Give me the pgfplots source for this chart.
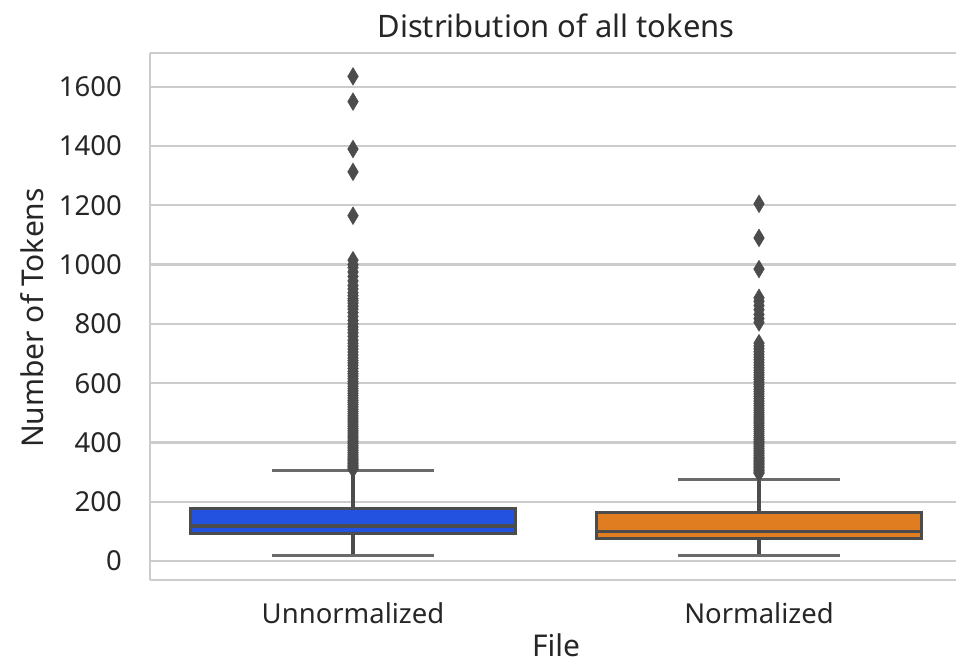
\documentclass[border=0pt]{standalone}
\usepackage{pgfplots}
\pgfplotsset{compat=1.18}
\usepackage{fontspec}
\setmainfont{Noto Sans}

\definecolor{boxblue}{HTML}{2252DF}
\definecolor{boxorange}{HTML}{DF7D20}
\definecolor{linegray}{HTML}{4C4C4C}
\definecolor{capgray}{HTML}{6A6A6A}
\definecolor{gridgray}{HTML}{CCCCCC}
\definecolor{textgray}{HTML}{262626}

% narrow diamond used for the outliers
\pgfdeclareplotmark{thindiamond}{%
  \pgfpathmoveto{\pgfqpoint{0pt}{\pgfplotmarksize}}%
  \pgfpathlineto{\pgfqpoint{0.6\pgfplotmarksize}{0pt}}%
  \pgfpathlineto{\pgfqpoint{0pt}{-\pgfplotmarksize}}%
  \pgfpathlineto{\pgfqpoint{-0.6\pgfplotmarksize}{0pt}}%
  \pgfpathclose
  \pgfusepathqfillstroke}

\begin{document}
\begin{tikzpicture}
\begin{axis}[
  at={(112.5pt,62.25pt)}, anchor=south west,
  scale only axis, width=609pt, height=395.25pt,
  xmin=-0.5, xmax=1.5, ymin=-64, ymax=1714,
  separate axis lines, axis x line*=box, axis y line*=left,
  xtick={0,1}, xticklabels={Unnormalized,Normalized},
  ytick={0,200,400,600,800,1000,1200,1400,1600},
  tick style={draw=none},
  ymajorgrids, major grid style={draw=gridgray, line width=1.7pt},
  axis line style={draw=gridgray, line width=2.2pt},
  tick label style={font=\fontsize{20.6}{24}\selectfont, text=textgray},
  xticklabel style={anchor=base, inner sep=0pt, yshift=-33pt},
  yticklabel style={anchor=east, inner sep=0pt, xshift=-21pt},
  /pgf/number format/assume math mode=true,
  /pgf/number format/1000 sep={},
  label style={font=\fontsize{22.5}{27}\selectfont, text=textgray},
  xlabel={File}, ylabel={Number of Tokens},
  xlabel style={at={(axis description cs:0.5,0)}, anchor=base, inner sep=0pt, yshift=-57.5pt},
  ylabel style={at={(axis description cs:-0.1315,0.497)}, anchor=base},
  title={Distribution of all tokens},
  title style={font=\fontsize{23.2}{28}\selectfont, text=textgray,
    at={(axis description cs:0.5,1)}, anchor=base, yshift=5.8pt},
  boxline/.style={draw=linegray, line width=2.5pt, mark=none},
  capline/.style={draw=capgray, line width=2.3pt, mark=none},
  outliers/.style={only marks, mark=thindiamond, mark size=6.6pt,
    mark options={fill=linegray, draw=linegray, line width=0.4pt}},
]

% ---- Unnormalized: whiskers, box, median, outliers
\addplot[boxline] coordinates {(0,18) (0,93.5)};
\addplot[boxline] coordinates {(0,178) (0,305)};
\addplot[capline] coordinates {(-0.2,18) (0.2,18)};
\addplot[capline] coordinates {(-0.2,305) (0.2,305)};
\addplot[boxline, fill=boxblue, line join=miter]
  coordinates {(-0.4,93.5) (0.4,93.5) (0.4,178) (-0.4,178)} -- cycle;
\addplot[boxline] coordinates {(-0.4,118) (0.4,118)};
\addplot[outliers] coordinates {
(0,1635) (0,1550) (0,1390) (0,1313) (0,1165)
(0,1015) (0,1000) (0,990) (0,975) (0,960) (0,945) (0,930) (0,918) (0,905)
(0,895) (0,885) (0,878) (0,870) (0,860) (0,850) (0,838) (0,825) (0,812)
(0,800) (0,790) (0,780) (0,770) (0,758) (0,745) (0,735) (0,725) (0,715)
(0,705) (0,695) (0,685) (0,676) (0,668) (0,660) (0,650) (0,640) (0,632)
(0,624) (0,615) (0,606) (0,598) (0,590) (0,582) (0,574) (0,566) (0,558)
(0,550) (0,542) (0,535) (0,528) (0,520) (0,512) (0,505) (0,498) (0,490)
(0,483) (0,476) (0,469) (0,462) (0,455) (0,448) (0,441) (0,435) (0,428)
(0,421) (0,415) (0,408) (0,402) (0,396) (0,390) (0,384) (0,378) (0,372)
(0,366) (0,360) (0,354) (0,348) (0,343) (0,338) (0,333) (0,328) (0,323)
(0,318) (0,314) (0,310)
};

% ---- Normalized: whiskers, box, median, outliers
\addplot[boxline] coordinates {(1,18) (1,76.5)};
\addplot[boxline] coordinates {(1,163) (1,276)};
\addplot[capline] coordinates {(0.8,18) (1.2,18)};
\addplot[capline] coordinates {(0.8,276) (1.2,276)};
\addplot[boxline, fill=boxorange, line join=miter]
  coordinates {(0.6,76.5) (1.4,76.5) (1.4,163) (0.6,163)} -- cycle;
\addplot[boxline] coordinates {(0.6,100) (1.4,100)};
\addplot[outliers] coordinates {
(1,1205) (1,1090) (1,985) (1,888) (1,876) (1,862) (1,848) (1,832) (1,818)
(1,805) (1,735) (1,725) (1,716) (1,706) (1,697) (1,688) (1,679) (1,670)
(1,661) (1,652) (1,644) (1,636) (1,628) (1,620) (1,612) (1,604) (1,596)
(1,588) (1,580) (1,572) (1,564) (1,556) (1,548) (1,540) (1,532) (1,524)
(1,516) (1,508) (1,500) (1,493) (1,486) (1,479) (1,472) (1,465) (1,458)
(1,451) (1,444) (1,437) (1,430) (1,423) (1,416) (1,410) (1,404) (1,398)
(1,392) (1,386) (1,380) (1,374) (1,368) (1,362) (1,356) (1,350) (1,345)
(1,340) (1,335) (1,330) (1,325) (1,320) (1,315) (1,310) (1,305) (1,300)
(1,296)
};
\end{axis}
\pgfresetboundingbox
\path[use as bounding box] (0pt,0pt) rectangle (717pt,497.25pt);
\end{tikzpicture}
\end{document}
